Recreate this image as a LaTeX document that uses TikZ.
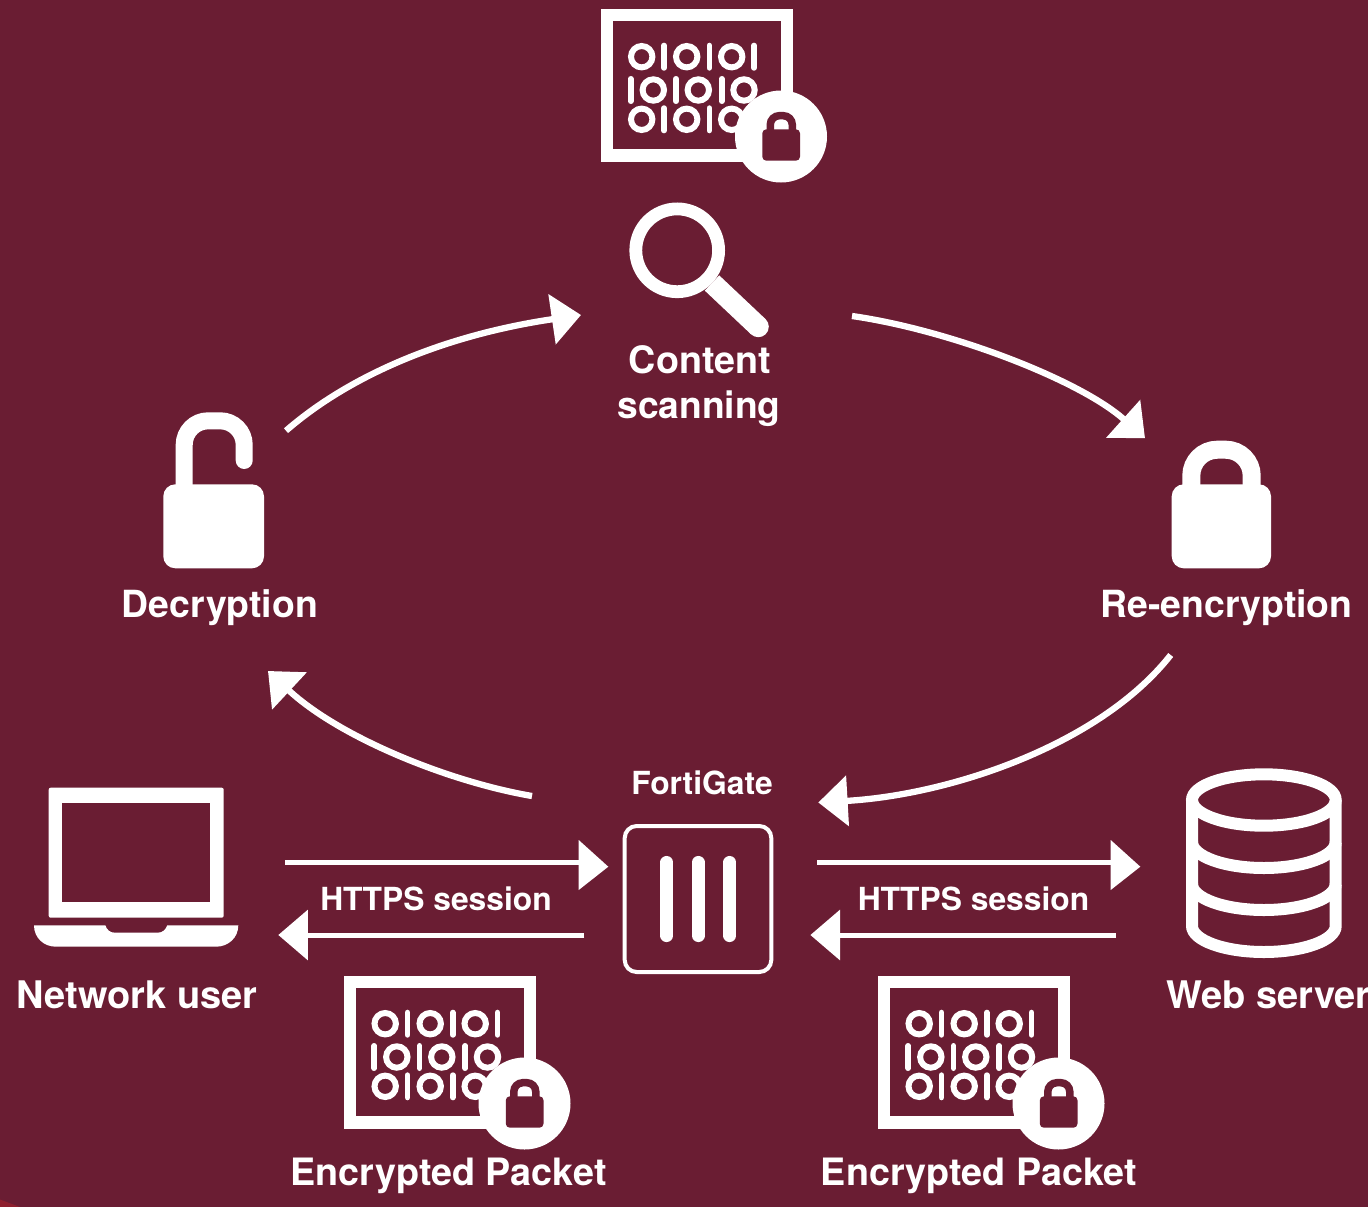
\documentclass[tikz,border=0pt]{standalone}
\usepackage{fontspec}
\setmainfont{TeX Gyre Heros}
\usetikzlibrary{arrows.meta}
\definecolor{wine}{HTML}{6A1D33}
\definecolor{cornerred}{HTML}{8E1F2E}
\pgfdeclarearrow{
  name=SkewHead,
  setup code={
    \pgfarrowssettipend{29.6pt}
    \pgfarrowssetlineend{1pt}
    \pgfarrowssetvisualbackend{0pt}
    \pgfarrowssetbackend{0pt}
    \pgfarrowshullpoint{29.6pt}{-4pt}
    \pgfarrowshullpoint{0pt}{22.7pt}
    \pgfarrowshullpoint{0pt}{-27.3pt}
  },
  drawing code={
    \pgfpathmoveto{\pgfqpoint{0pt}{22.7pt}}
    \pgfpathlineto{\pgfqpoint{29.6pt}{-4pt}}
    \pgfpathlineto{\pgfqpoint{0pt}{-27.3pt}}
    \pgfpathclose
    \pgfusepathqfill
  }
}
\tikzset{
  biglabel/.style={text=white,anchor=base,inner sep=0pt,font=\fontsize{37.7}{40}\selectfont\bfseries},
  midlabel/.style={text=white,anchor=base,inner sep=0pt,font=\fontsize{31.8}{34}\selectfont\bfseries},
  conn/.style={draw=white,line width=5pt},
  curvedconn/.style={conn,line width=6.3pt,-{Triangle[length=29.3pt,width=49.5pt]},white},
  straightback/.style={conn,-{Triangle[length=29.6pt,width=49.5pt]},white},
  straightfwd/.style={conn,-{SkewHead},white},
  ringmark/.style={draw=white,line width=6pt},
  barmark/.style={draw=white,line width=5.6pt,line cap=round},
  packet/.pic={
    \fill[white] (0.7,0) rectangle (192.7,152.7);
    \fill[wine] (12.7,12) rectangle (180.7,140.3);
    \foreach \cx in {41.7,86.7,131.7} {
      \draw[ringmark] (\cx,47.7) circle[radius=10.7pt];
      \draw[ringmark] (\cx,110.3) circle[radius=10.7pt];
    }
    \foreach \cx in {64,109.3,154} {
      \draw[barmark] (\cx,36.5) -- (\cx,58.9);
      \draw[barmark] (\cx,99.1) -- (\cx,121.5);
    }
    \foreach \cx in {53.3,98.3,144} {
      \draw[ringmark] (\cx,81) circle[radius=10.7pt];
    }
    \foreach \cx in {30.7,76,121.7} {
      \draw[barmark] (\cx,69.8) -- (\cx,92.2);
    }
    \fill[white] (181,127.5) circle[radius=46pt];
    \draw[wine,line width=7.5pt,rounded corners=9pt] (170.3,125) -- (170.3,106.7) -- (192.3,106.7) -- (192.3,125);
    \fill[wine,rounded corners=4pt] (162.3,120.3) rectangle (200,151.7);
  }
}
\begin{document}
\begin{tikzpicture}[x=1pt,y=-1pt]
\useasboundingbox (0,0) rectangle (1368,1207);
\fill[wine] (0,0) rectangle (1368,1207);
\fill[cornerred] (0,1199.5) -- (20,1207) -- (0,1207) -- cycle;

% packets
\pic (pkttop) at (600,9) {packet};
\pic (pktleft) at (343.5,976) {packet};
\pic (pktright) at (877.5,976) {packet};

% magnifier
\draw[white,line width=12.8pt] (677.2,250.3) circle[radius=41.4pt];
\coordinate (handlea) at (712,283);
\coordinate (handleb) at (758.3,326.7);
\draw[white,line width=21pt] (handlea) -- (handleb);
\fill[white] (handleb) circle[radius=10.5pt];

% open lock
\draw[white,line width=17pt,line cap=round,rounded corners=24pt] (184.2,495) -- (184.2,420.8) -- (244.2,420.8) -- (244.2,460.5);
\fill[white,rounded corners=12pt] (163.3,484.3) rectangle (264,568.3);

% closed lock
\draw[white,line width=18pt,rounded corners=26pt] (1191.3,495) -- (1191.3,449.7) -- (1251.7,449.7) -- (1251.7,495);
\fill[white,rounded corners=12pt] (1171.7,484.3) rectangle (1271,568.3);

% laptop
\fill[white,rounded corners=2pt] (48.7,787.7) rectangle (223.7,917.7);
\fill[wine] (62.3,802.7) rectangle (210,902);
\fill[white] (34,925.3) -- (105.3,925.3) .. controls (107,930) and (110,932.7) .. (115,932.7)
  -- (157.5,932.7) .. controls (162.5,932.7) and (165.5,930) .. (167.3,925.3)
  -- (238.3,925.3) .. controls (238.3,938) and (228,946.7) .. (216,946.7)
  -- (56,946.7) .. controls (44,946.7) and (34,938) .. (34,925.3) -- cycle;

% database
\draw[white,line width=12pt] (1263.85,800) ellipse[x radius=71.85pt,y radius=25.7pt];
\draw[white,line width=12pt] (1192,800) -- (1192,926)
  .. controls (1192,940.2) and (1224,952) .. (1263.85,952)
  .. controls (1303.7,952) and (1335.7,940.2) .. (1335.7,926) -- (1335.7,800);
\draw[white,line width=12pt] (1192,842) .. controls (1192,856.2) and (1224,868) .. (1263.85,868)
  .. controls (1303.7,868) and (1335.7,856.2) .. (1335.7,842);
\draw[white,line width=12pt] (1192,884) .. controls (1192,898.2) and (1224,910) .. (1263.85,910)
  .. controls (1303.7,910) and (1335.7,898.2) .. (1335.7,884);

% FortiGate
\node[draw=white,line width=4pt,rounded corners=12pt,minimum width=146.6pt,minimum height=146pt,inner sep=0pt] (fortibox) at (698,899) {};
\foreach \bx in {666.7,698.3,729.7} {
  \draw[white,line width=12.7pt,line cap=round] (\bx,862.3) -- (\bx,935.7);
}

% labels
\node[biglabel] (lblcontent) at (700,373) {Content};
\node[biglabel,font=\fontsize{37.2}{40}\selectfont\bfseries] (lblscan) at (699,418) {scanning};
\node[biglabel,font=\fontsize{37.4}{40}\selectfont\bfseries] (lbldec) at (220,617) {Decryption};
\node[biglabel,font=\fontsize{37.4}{40}\selectfont\bfseries] (lblre) at (1226.5,617) {Re-encryption};
\node[biglabel,font=\fontsize{38}{40}\selectfont\bfseries] (lblnet) at (137,1008.5) {Network user};
\node[biglabel,font=\fontsize{38}{40}\selectfont\bfseries] (lblweb) at (1268.5,1008.5) {Web server};
\node[biglabel] (lblpl) at (448.5,1185) {Encrypted Packet};
\node[biglabel] (lblpr) at (979,1185) {Encrypted Packet};
\node[midlabel] (lblforti) at (702,794.5) {FortiGate};
\node[midlabel] (lblhl) at (436,910) {HTTPS session};
\node[midlabel] (lblhr) at (973.5,910) {HTTPS session};

% connector ends
\coordinate (a1s) at (285,862.7);
\coordinate (a1e) at (608.3,862.7);
\coordinate (a2s) at (584.3,935);
\coordinate (a2e) at (278.3,935);
\coordinate (a3s) at (817,862.7);
\coordinate (a3e) at (1140.3,862.7);
\coordinate (a4s) at (1116,935);
\coordinate (a4e) at (810.4,935);
\coordinate (c1s) at (286,430.7);
\coordinate (c1e) at (581,315);
\coordinate (c2s) at (852,316);
\coordinate (c2e) at (1145,438.3);
\coordinate (c3s) at (1170.7,655);
\coordinate (c3e) at (818.3,802.5);
\coordinate (c4s) at (532,796);
\coordinate (c4e) at (268,671);

\draw[straightfwd] (a1s) -- (a1e);
\draw[straightback] (a2s) -- (a2e);
\draw[straightfwd] (a3s) -- (a3e);
\draw[straightback] (a4s) -- (a4e);
\draw[curvedconn] (c1s) .. controls (350,375) and (445,335) .. (c1e);
\draw[curvedconn] (c2s) .. controls (950,330) and (1080,380) .. (c2e);
\draw[curvedconn] (c3s) .. controls (1100,745) and (950,795) .. (c3e);
\draw[curvedconn] (c4s) .. controls (450,782) and (340,738) .. (c4e);
\end{tikzpicture}
\end{document}
